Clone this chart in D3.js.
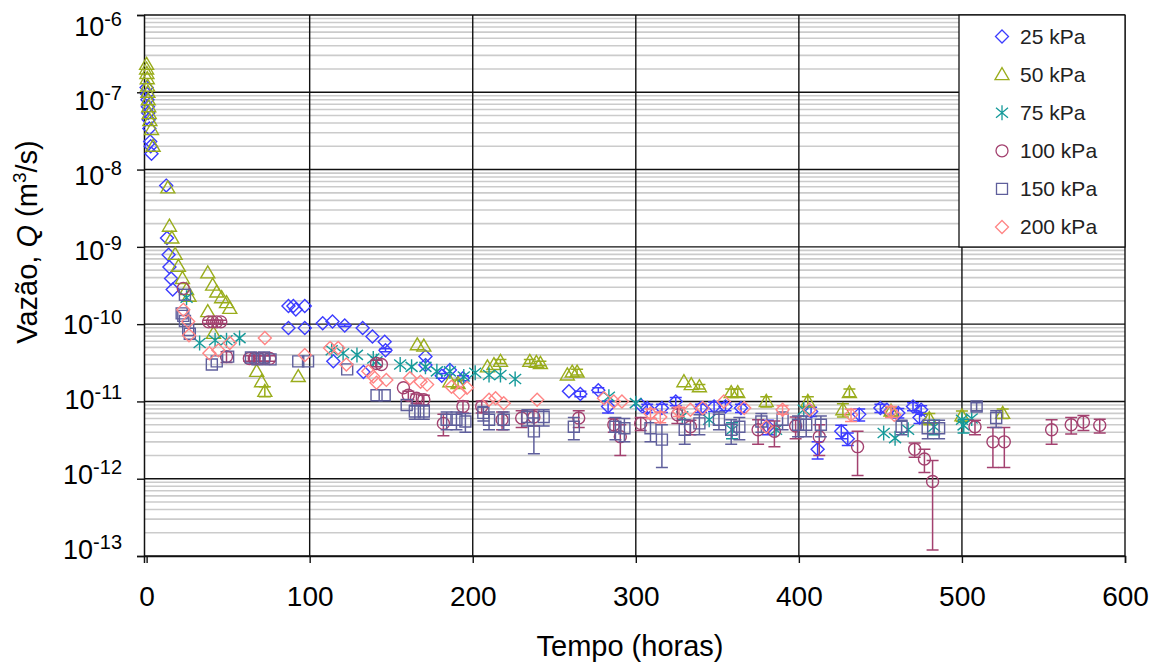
<!DOCTYPE html>
<html><head><meta charset="utf-8">
<script src="https://cdn.jsdelivr.net/npm/d3@7"></script>
<style>
body{margin:0;background:#fff}
svg{display:block;font-family:"Liberation Sans",Arial,Helvetica,sans-serif}
</style>
</head><body>
<svg id="chart" width="1160" height="665"></svg>
<script>
// ---------------- DATA ----------------
// each point: [tempo (horas), vazão Q (m3/s), error bar (± m3/s, 0 = none)]
const seriesNames = ["25 kPa", "50 kPa", "75 kPa", "100 kPa", "150 kPa", "200 kPa"];

const s25 = [
  [0,1.15e-7,0],[0.3,9.5e-8,0],[0.5,8.0e-8,0],[0.8,6.5e-8,0],[1.0,5.4e-8,0],[1.3,4.4e-8,0],
  [1.7,3.4e-8,0],[2.2,2.3e-8,0],[2.5,2.0e-8,0],[3.0,1.6e-8,0],
  [12,6.2e-9,0],[12.5,1.3e-9,0],[13.5,7.9e-10,0],[14,5.5e-10,0],[15,3.9e-10,0],[16,2.8e-10,0],
  [87,1.72e-10,0],[90,1.72e-10,0],[91.5,1.55e-10,0],[97,1.72e-10,0],[87,8.9e-11,0],[97,8.9e-11,0],
  [108,1.03e-10,0],[114,1.08e-10,0],[114.5,3.3e-11,0],[121.5,9.6e-11,3e-12],[132.5,8.9e-11,0],
  [133,2.4e-11,0],[138.5,6.9e-11,0],[146,5.9e-11,0],[146.5,4.6e-11,2e-12],[171,3.8e-11,0],
  [171,2.95e-11,0],[181,2.15e-11,1.5e-12],[186,2.55e-11,0],[194,2.0e-11,1.5e-12],
  [259,1.35e-11,0],[266,1.25e-11,1e-12],[277,1.4e-11,1e-12],[283,8.6e-12,1.5e-12],
  [303,9.0e-12,0],[307,8.2e-12,1e-12],[316,8.2e-12,1e-12],[324.5,1.0e-11,1.2e-12],
  [340,8.2e-12,1e-12],[348,8.6e-12,1.2e-12],[355,8.6e-12,1e-12],[364.5,8.2e-12,1e-12],
  [381,4.7e-12,1e-12],[407.5,7.4e-12,1e-12],[411.5,2.4e-12,6e-13],[426,4.1e-12,8e-13],
  [430,3.3e-12,6e-13],[437,6.8e-12,1.2e-12],[450,8.2e-12,1e-12],[454,7.8e-12,0],
  [461,7.1e-12,1e-12],[470,8.6e-12,1e-12],[475,7.8e-12,1e-12],[474,6.2e-12,1e-12]
];

const s50 = [
  [0,2.3e-7,0],[0,2.0e-7,0],[0.2,1.75e-7,0],[0.4,1.5e-7,0],[0.6,1.2e-7,0],[0.8,1.0e-7,0],
  [1.0,8.0e-8,0],[1.3,6.5e-8,0],[1.6,5.3e-8,0],[2.0,4.3e-8,0],[3.0,3.3e-8,0],[4.0,2.0e-8,0],
  [13,5.8e-9,0],[14,1.85e-9,0],[15.5,1.3e-9,0],[17.5,8.0e-10,0],[19.5,5.6e-10,0],[22,3.9e-10,0],
  [24.5,2.8e-10,0],[26,2.3e-10,0],
  [37.5,4.6e-10,0],[40.5,3.2e-10,0],[43,2.6e-10,0],[46,2.2e-10,0],[49,1.9e-10,0],[51,1.6e-10,0],
  [37.5,1.45e-10,0],[41,7.6e-11,0],[67.5,2.45e-11,0],[70.5,1.8e-11,0],[72.5,1.35e-11,2e-12],
  [93,2.1e-11,0],[166,5.4e-11,0],[170,5.2e-11,0],[186,1.8e-11,0],[191,1.7e-11,2e-12],
  [209,2.8e-11,0],[213,3.0e-11,0],[217,3.3e-11,2e-12],[235,3.3e-11,2e-12],[239,3.2e-11,0],
  [241.5,3.1e-11,2e-12],[258,2.2e-11,0],[261,2.4e-11,0],[264,2.4e-11,2e-12],
  [329.5,1.8e-11,0],[334,1.65e-11,0],[339,1.55e-11,1e-12],[358.5,1.3e-11,1.5e-12],
  [362.5,1.3e-11,1.5e-12],[380,1.0e-11,1.5e-12],[405.5,1.0e-11,1.5e-12],[427,7.8e-12,1.5e-12],
  [431,1.3e-11,1.5e-12],[456.5,7.5e-12,1e-12],[480,6.0e-12,1e-12],[500,6.5e-12,1e-12],
  [525,7.0e-12,1e-12]
];

const s75 = [
  [24.5,2.2e-10,0],[32.5,5.7e-11,0],[42,6.2e-11,0],[49,6.2e-11,0],[57,6.6e-11,0],
  [113.5,4.6e-11,0],[120.5,4.2e-11,0],[129,4.0e-11,0],[139,3.6e-11,0],[141,3.3e-11,0],
  [155.5,3.0e-11,0],[162.5,2.8e-11,0],[171,2.8e-11,0],[178,2.45e-11,0],[186,2.45e-11,0],
  [194.5,2.1e-11,0],[201.5,2.35e-11,0],[210,2.2e-11,0],[217,2.2e-11,0],[226,1.95e-11,0],
  [283.5,1.15e-11,0],[300,9.5e-12,0],[328.5,6.4e-12,0],[345,5.8e-12,0],[359,4.3e-12,1e-12],
  [386,4.3e-12,0],[403,7.8e-12,0],[452,3.9e-12,0],[459,3.35e-12,0],[467,4.3e-12,0],
  [483,4.7e-12,1e-12],[500,5.8e-12,0],[506,6.0e-12,0],[501,4.9e-12,1e-12]
];

const s100 = [
  [22.5,2.9e-10,0],[38,1.07e-10,5e-12],[40.5,1.07e-10,5e-12],[43,1.07e-10,5e-12],[45.5,1.07e-10,5e-12],
  [49,3.8e-11,6e-12],[63,3.6e-11,3e-12],[66,3.6e-11,3e-12],[69,3.6e-11,3e-12],[72,3.6e-11,3e-12],
  [75.5,3.6e-11,3e-12],[141,3.1e-11,3e-12],[144,3.0e-11,0],[157.5,1.5e-11,0],[160.5,1.2e-11,1.5e-12],
  [165.5,1.1e-11,1.5e-12],[170,1.05e-11,1.5e-12],[182,5.2e-12,1.6e-12],[194,8.6e-12,1.5e-12],
  [205.5,8.6e-12,1.5e-12],[218,5.8e-12,1.5e-12],[230,6.1e-12,1.5e-12],[237.5,6.3e-12,1.5e-12],
  [265,6.1e-12,1.5e-12],[286.5,5.0e-12,1e-12],[290.5,3.5e-12,1.5e-12],[303,5.2e-12,1e-12],
  [325.5,6.7e-12,1.5e-12],[333.5,4.7e-12,1e-12],[375,4.3e-12,1.5e-12],[385,4.1e-12,1.5e-12],
  [398,4.8e-12,1.5e-12],[412.5,3.5e-12,1.5e-12],[436,2.6e-12,1.5e-12],[471,2.4e-12,5e-13],
  [477,1.8e-12,6e-13],[482,9.2e-13,8e-13],[508,4.7e-12,1e-12],[519,3.0e-12,1.6e-12],
  [526,3.0e-12,1.6e-12],[555,4.3e-12,1.5e-12],[567,5.0e-12,1.2e-12],[574.5,5.4e-12,1.2e-12],
  [584.5,4.9e-12,1e-12]
];

const s150 = [
  [23.5,2.4e-10,0],[21.5,1.38e-10,0],[22.5,1.28e-10,0],[23.5,1.1e-10,0],[25.5,8.4e-11,0],
  [26.5,7.5e-11,0],[40,3.0e-11,0],[43,3.3e-11,0],[50,3.8e-11,0],[64,3.7e-11,0],[68,3.5e-11,0],
  [72,3.7e-11,0],[76,3.5e-11,0],[93,3.3e-11,0],[99,3.3e-11,0],[123,2.6e-11,0],[141,1.2e-11,0],
  [146,1.2e-11,0],[159.5,9.0e-12,0],[164.5,7.4e-12,1.5e-12],[170,7.4e-12,1.5e-12],
  [184,5.8e-12,1.5e-12],[190,5.8e-12,1.5e-12],[195.5,5.5e-12,1.5e-12],[206.5,7.1e-12,1.5e-12],
  [210,5.8e-12,1.5e-12],[219,5.8e-12,1.5e-12],[233.5,6.3e-12,1.5e-12],[237.5,4.1e-12,2e-12],
  [243.5,6.3e-12,1.5e-12],[262,4.7e-12,1.5e-12],[287.5,4.7e-12,1.5e-12],[293,4.5e-12,1.5e-12],
  [309,4.5e-12,1.5e-12],[316,3.2e-12,1.8e-12],[330,4.3e-12,1.5e-12],[339,5.2e-12,1.5e-12],
  [351,5.8e-12,1.5e-12],[358.5,4.3e-12,1.5e-12],[363.5,4.7e-12,1.5e-12],[377,5.5e-12,1.5e-12],
  [390,5.8e-12,1.5e-12],[399.5,5.0e-12,1.5e-12],[404.5,5.0e-12,1.5e-12],[413.5,5.0e-12,1.5e-12],
  [463,4.7e-12,1e-12],[479,4.5e-12,1.2e-12],[486,4.5e-12,1.2e-12],[509,8.6e-12,1e-12],
  [521,6.1e-12,1.5e-12]
];

const s200 = [
  [22.5,1.53e-10,0],[25.5,1.08e-10,0],[26,7.2e-11,0],[38.5,4.2e-11,0],[44,4.6e-11,0],[51,5.7e-11,0],
  [72.5,6.6e-11,0],[97,4.0e-11,0],[112.5,4.9e-11,0],[117.5,4.9e-11,0],[122.5,3.0e-11,0],
  [136,2.45e-11,0],[139,2.1e-11,0],[141,1.75e-11,0],[147,1.9e-11,0],[161.5,2.0e-11,0],
  [168,1.8e-11,0],[172,1.65e-11,0],[187,1.55e-11,0],[192,1.3e-11,0],[196.5,1.5e-11,0],
  [210,1.05e-11,0],[214,1.1e-11,0],[219,9.5e-12,0],[239.5,1.05e-11,0],[280.5,1.1e-11,0],
  [286.5,1.0e-11,0],[291.5,1.0e-11,0],[309,7.0e-12,1e-12],[315,6.3e-12,1e-12],
  [326.5,7.4e-12,1e-12],[333.5,7.8e-12,0],[341,8.2e-12,0],[354,1.0e-11,0],[366.5,8.2e-12,0],
  [380,4.7e-12,0],[390,7.8e-12,1e-12],[406.5,7.8e-12,0],[432,6.7e-12,1.2e-12],
  [456.5,7.4e-12,1.2e-12],[458.5,6.7e-12,0]
];

const xTickValues = [0, 100, 200, 300, 400, 500, 600];
const yTickExponents = [-6, -7, -8, -9, -10, -11, -12, -13];
const xTitle = "Tempo (horas)";

// ---------------- STYLE ----------------
const seriesData = [s25, s50, s75, s100, s150, s200];
const colors = ["#3c3cff", "#9aad1c", "#159a9a", "#a3416f", "#5f5f9c", "#ff8585"];
const shapes = ["diamond", "triangle", "star", "circle", "square", "diamond"];

const L = 144, R = 1125, T = 15, B = 556;

const svg = d3.select("#chart");
const x = d3.scaleLinear().domain([-1.6, 600]).range([L, R]);
const y = d3.scaleLog().domain([1e-13, 1e-6]).range([B, T]);
// Tick label placement (labels in the original are spaced slightly tighter than the gridlines)
const yLabel = d3.scaleLog().domain([1e-13, 1e-6]).range([549, 26]);

// minor gridlines
const minorVals = [];
for (let e = -13; e < -6; e++) for (let m = 2; m <= 9; m++) minorVals.push(m * Math.pow(10, e));
svg.append("g").selectAll("line").data(minorVals).join("line")
  .attr("x1", L).attr("x2", R)
  .attr("y1", d => y(d)).attr("y2", d => y(d))
  .attr("stroke", "#cbcbcb").attr("stroke-width", 1.6);

// major horizontal gridlines
const majorVals = yTickExponents.map(e => Math.pow(10, e));
svg.append("g").selectAll("line").data(majorVals).join("line")
  .attr("x1", L).attr("x2", R)
  .attr("y1", d => y(d)).attr("y2", d => y(d))
  .attr("stroke", "#111").attr("stroke-width", 1.4);

// vertical gridlines
svg.append("g").selectAll("line").data(xTickValues.filter(v => v > 0)).join("line")
  .attr("x1", d => x(d)).attr("x2", d => x(d))
  .attr("y1", T).attr("y2", B)
  .attr("stroke", "#111").attr("stroke-width", 1.4);

// axes
const yAxis = svg.append("g").attr("transform", `translate(${L},0)`)
  .call(d3.axisLeft(y).tickValues(majorVals).tickSize(7).tickFormat(""));
yAxis.select(".domain").attr("stroke", "#111").attr("stroke-width", 1.5);
yAxis.selectAll(".tick line").attr("stroke", "#111").attr("stroke-width", 1.4);

const xAxis = svg.append("g").attr("transform", `translate(0,${B})`)
  .call(d3.axisBottom(x).tickValues(xTickValues).tickSize(7).tickPadding(23).tickFormat(d3.format("d")));
xAxis.select(".domain").attr("stroke", "#111").attr("stroke-width", 1.5);
xAxis.selectAll(".tick line").attr("stroke", "#111").attr("stroke-width", 1.4);
xAxis.selectAll(".tick text").attr("font-size", 28).attr("fill", "#000")
  .attr("font-family", '"Liberation Sans",Arial,sans-serif');

// y tick labels with superscript exponents
const yl = svg.append("g").selectAll("text").data(yTickExponents).join("text")
  .attr("x", 122).attr("y", e => yLabel(Math.pow(10, e)) + 9.5)
  .attr("text-anchor", "end").attr("font-size", 27).attr("fill", "#000");
yl.append("tspan").text("10");
yl.append("tspan").attr("dy", -10).attr("font-size", 20).text(e => String(e));

// axis titles
svg.append("text").attr("x", 630).attr("y", 656).attr("text-anchor", "middle")
  .attr("font-size", 29).attr("fill", "#000").text(xTitle);

const yt = svg.append("text").attr("transform", "translate(37,242) rotate(-90)")
  .attr("text-anchor", "middle").attr("font-size", 29).attr("fill", "#000");
yt.append("tspan").text("Vazão, ");
yt.append("tspan").attr("font-style", "italic").text("Q");
yt.append("tspan").text(" (m");
yt.append("tspan").attr("dy", -11).attr("font-size", 19).text("3");
yt.append("tspan").attr("dy", 11).text("/s)");

// marker path generator
function markerPath(shape) {
  switch (shape) {
    case "diamond": return "M0,-6.5L6.5,0L0,6.5L-6.5,0Z";
    case "triangle": return "M0,-7L7,5L-7,5Z";
    case "square": return "M-5.5,-5.5H5.5V5.5H-5.5Z";
    case "circle": return "M6,0A6,6 0 1,1 -6,0A6,6 0 1,1 6,0Z";
    case "star": return "M0,-7.5V7.5M-6,-5L6,5M-6,5L6,-5";
  }
}

// series: error bars then markers
seriesData.forEach((data, i) => {
  const g = svg.append("g");
  const withErr = data.filter(d => d[2] > 0);
  const eb = g.append("g").attr("stroke", colors[i]).attr("stroke-width", 1.5).attr("fill", "none");
  eb.selectAll("path").data(withErr).join("path")
    .attr("d", d => {
      const cx = x(d[0]);
      const y1 = y(Math.max(d[1] - d[2], 1e-14)), y2 = y(d[1] + d[2]);
      return `M${cx},${y1}V${y2}M${cx - 6},${y1}H${cx + 6}M${cx - 6},${y2}H${cx + 6}`;
    });
  g.append("g").selectAll("path").data(data).join("path")
    .attr("transform", d => `translate(${x(d[0])},${y(d[1])})`)
    .attr("d", markerPath(shapes[i]))
    .attr("fill", "none").attr("stroke", colors[i]).attr("stroke-width", 1.4);
});

// legend
const lg = svg.append("g");
lg.append("rect").attr("x", 959).attr("y", T).attr("width", R - 959).attr("height", 232)
  .attr("fill", "#fff").attr("stroke", "#111").attr("stroke-width", 1.3);
const items = lg.selectAll("g.item").data(seriesNames).join("g").attr("class", "item")
  .attr("transform", (d, i) => `translate(0,${43.5 + i * 38.1})`);
items.append("path")
  .attr("transform", "translate(1002,-7)")
  .attr("d", (d, i) => markerPath(shapes[i]))
  .attr("fill", "none").attr("stroke", (d, i) => colors[i]).attr("stroke-width", 1.3);
items.append("text").attr("x", 1020).attr("y", 0).attr("font-size", 21).attr("fill", "#222").text(d => d);
</script>
</body></html>
